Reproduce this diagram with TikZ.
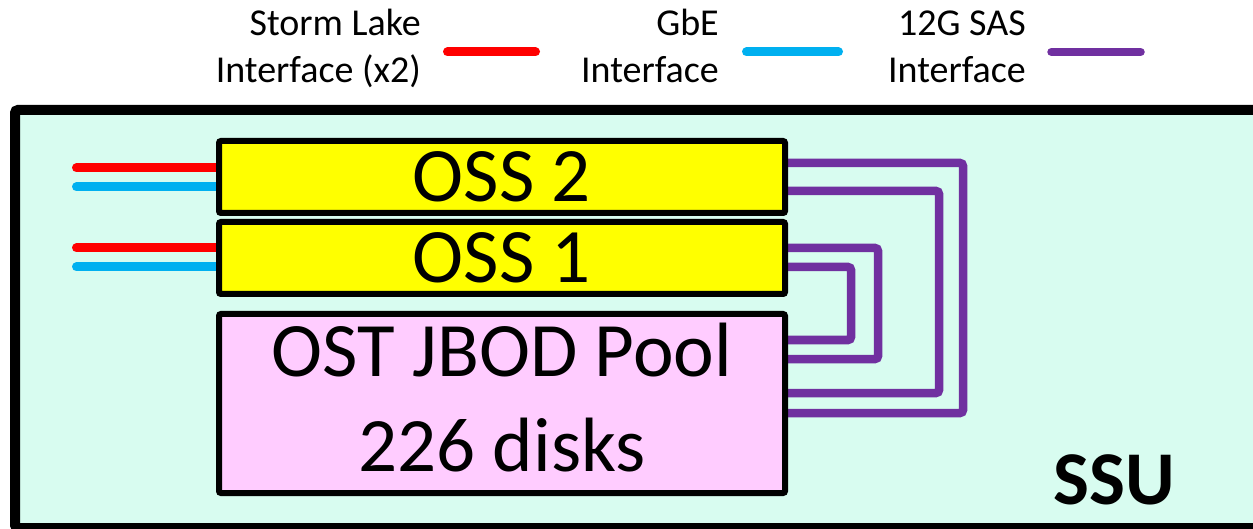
\documentclass[tikz,border=0pt]{standalone}
\usepackage{fontspec}
\setmainfont{Carlito}
\definecolor{ssufill}{HTML}{D8FCF0}
\definecolor{ossfill}{HTML}{FFFF00}
\definecolor{poolfill}{HTML}{FFCCFF}
\definecolor{slred}{HTML}{FF0000}
\definecolor{gbeblue}{HTML}{00B0F0}
\definecolor{saspurple}{HTML}{7030A0}
\pgfdeclarelayer{enclosure}
\pgfdeclarelayer{cables}
\pgfsetlayers{enclosure,cables,main}
\tikzset{
  unitbox/.style={draw=black, line width=6pt, rounded corners=2pt, inner sep=0pt,
    minimum width=566pt, align=center, font=\fontsize{77}{95}\selectfont},
  link/.style={line width=9pt, line cap=round},
  slink/.style={link, draw=slred},
  glink/.style={link, draw=gbeblue},
  saslink/.style={line width=8.5pt, line cap=round, draw=saspurple, rounded corners=3pt},
  legendtext/.style={inner sep=0pt, anchor=base east, align=right,
    font=\fontsize{38}{47}\selectfont},
}
\begin{document}
\begin{tikzpicture}[x=1pt, y=-1pt]
\useasboundingbox (0,0) rectangle (1253,529);
\clip (0,0) rectangle (1253,529);

% legend
\node[legendtext] (lgsl) at (421,83) {Storm Lake\\Interface (x2)};
\node[legendtext] (lggbe) at (719,83) {GbE\\Interface};
\node[legendtext] (lgsas) at (1026,83) {12G SAS\\Interface};
\coordinate (lgsla) at (447.5,52);  \coordinate (lgslb) at (535.5,52);
\coordinate (lggbea) at (746.5,52); \coordinate (lggbeb) at (838.5,52);
\coordinate (lgsasa) at (1051.5,52); \coordinate (lgsasb) at (1140.5,52);
\draw[slink] (lgsla) -- (lgslb);
\draw[glink] (lggbea) -- (lggbeb);
\draw[saslink] (lgsasa) -- (lgsasb);

% scalable storage unit enclosure
\begin{pgfonlayer}{enclosure}
\node[draw=black, fill=ssufill, line width=10pt, rounded corners=3pt, inner sep=0pt,
  outer sep=0pt, minimum width=1250pt, minimum height=418pt, anchor=north west]
  (ssu) at (15,110) {};
\end{pgfonlayer}
\node[inner sep=0pt, anchor=base east, font=\fontsize{76}{80}\selectfont\bfseries]
  (ssulabel) at (1175,504) {SSU};

% servers and disk pool
\node[unitbox, fill=ossfill, minimum height=72pt] (oss2) at (502,177) {OSS 2};
\node[unitbox, fill=ossfill, minimum height=72pt] (oss1) at (502,258) {OSS 1};
\node[unitbox, fill=poolfill, minimum height=179pt] (pool) at (502,403.5)
  {OST JBOD Pool\\226 disks\rule[-12pt]{0pt}{0pt}};

\begin{pgfonlayer}{cables}
% external interfaces
\coordinate (sl2) at (76.5,168);  \coordinate (gb2) at (76.5,187);
\coordinate (sl1) at (76.5,248);  \coordinate (gb1) at (76.5,267);
\draw[slink] (sl2) -- (sl2 -| oss2.center);
\draw[glink] (gb2) -- (gb2 -| oss2.center);
\draw[slink] (sl1) -- (sl1 -| oss1.center);
\draw[glink] (gb1) -- (gb1 -| oss1.center);

% SAS cabling from the pool to both servers
\draw[saslink] (oss2.center |- 0,163) -| (963,413) -- (pool.center |- 0,413);
\draw[saslink] (oss2.center |- 0,191) -| (939,393) -- (pool.center |- 0,393);
\draw[saslink] (oss1.center |- 0,248) -| (878,359) -- (pool.center |- 0,359);
\draw[saslink] (oss1.center |- 0,267) -| (851,340) -- (pool.center |- 0,340);
\end{pgfonlayer}
\end{tikzpicture}
\end{document}
